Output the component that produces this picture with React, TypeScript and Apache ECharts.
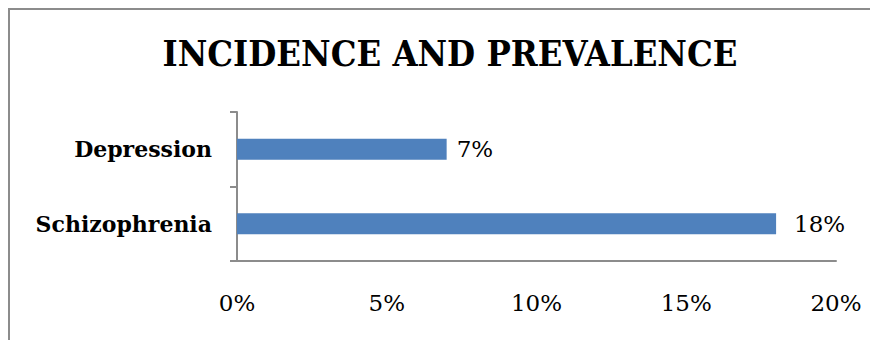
import React, { useEffect, useRef } from "react";
import * as echarts from "echarts";

const categories = ["Schizophrenia", "Depression"];
const values = [18, 7];
const xTicks = [0, 5, 10, 15, 20];
const titleText = "INCIDENCE AND PREVALENCE";

const labelGaps = [18, 10];

export default function App() {
  const ref = useRef<HTMLDivElement>(null);
  useEffect(() => {
    if (!ref.current) return;
    const chart = echarts.init(ref.current, null, { renderer: "svg" });
    const font = "DejaVu Serif";
    chart.setOption({
      animation: false,
      backgroundColor: "#ffffff",
      graphic: [
        {
          type: "rect",
          shape: { x: 1, y: 1, width: 1000, height: 1000 },
          style: { fill: "none", stroke: "#8c8c8c", lineWidth: 2 },
          silent: true,
        },
        {
          type: "text",
          x: 442,
          y: 27,
          style: {
            text: titleText,
            fontFamily: "DejaVu Serif Condensed",
            fontWeight: "bold",
            fontSize: 36,
            fill: "#000",
            textAlign: "center",
            textVerticalAlign: "top",
          },
        },
      ],
      grid: { left: 229, right: 42, top: 104, bottom: 79, containLabel: false },
      xAxis: {
        type: "value",
        min: 0,
        max: 20,
        interval: 5,
        axisLine: { show: true, lineStyle: { color: "#8c8c8c", width: 2 } },
        axisTick: { show: false },
        splitLine: { show: false },
        axisLabel: {
          formatter: (v: number) => (xTicks.includes(v) ? v + "%" : ""),
          fontFamily: font,
          fontSize: 23,
          color: "#000",
          margin: 30,
        },
      },
      yAxis: {
        type: "category",
        data: categories,
        axisLine: { show: true, lineStyle: { color: "#8c8c8c", width: 2 } },
        axisTick: { show: true, length: 7, lineStyle: { color: "#8c8c8c", width: 2 } },
        axisLabel: {
          fontFamily: font,
          fontWeight: "bold",
          fontSize: 22,
          color: "#000",
          margin: 25,
        },
      },
      series: [
        {
          type: "bar",
          data: values.map((v, i) => ({ value: v, label: { distance: labelGaps[i] } })),
          barWidth: 21,
          itemStyle: { color: "#4f81bd" },
          label: {
            show: true,
            position: "right",
            formatter: (p: any) => p.value + "%",
            fontFamily: font,
            fontSize: 23,
            color: "#000",
          },
        },
      ],
    });
    return () => chart.dispose();
  }, []);
  return <div ref={ref} style={{ width: 870, height: 332 }} />;
}
